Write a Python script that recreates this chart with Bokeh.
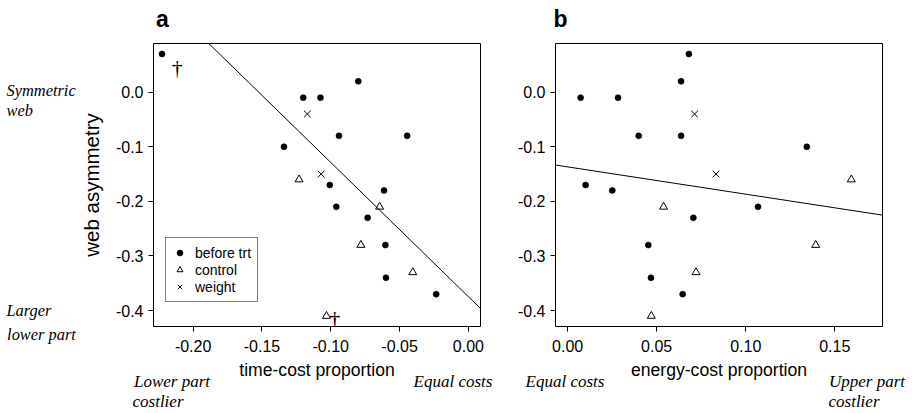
from bokeh.plotting import figure
from bokeh.models import Range1d, FixedTicker, Legend, LegendItem, Slope, LinearAxis
from bokeh.layouts import row
from bokeh.embed import file_html
from bokeh.resources import INLINE
from bokeh.core.properties import value

# ---------------- data ----------------
asym_before = [0.07, -0.01, -0.01, 0.02, -0.08, -0.08, -0.10, -0.17, -0.18, -0.21, -0.23, -0.28, -0.34, -0.37]
time_before = [-0.2226, -0.120, -0.1075, -0.080, -0.094, -0.0445, -0.134, -0.1007, -0.0613, -0.096, -0.0732, -0.0603, -0.0599, -0.0234]
energy_before = [0.0681, 0.0073, 0.0283, 0.0637, 0.0399, 0.0637, 0.1343, 0.0101, 0.0251, 0.1069, 0.0706, 0.0453, 0.0468, 0.0646]

asym_control = [-0.16, -0.21, -0.28, -0.33, -0.41]
time_control = [-0.123, -0.0645, -0.0781, -0.0404, -0.1031]
energy_control = [0.1593, 0.0539, 0.1393, 0.0721, 0.047]

asym_weight = [-0.04, -0.15]
time_weight = [-0.117, -0.107]
energy_weight = [0.0713, 0.0833]

# dead spiders (dagger marks) in panel a
dagger_time = [-0.2116, -0.0971]
dagger_asym = [0.0451, -0.4153]

# fitted lines
slope_time, intercept_time = -2.459, -0.3746
slope_energy, intercept_energy = -0.50, -0.1368

y_ticks = [0.0, -0.1, -0.2, -0.3, -0.4]
y_tick_labels = ["0.0", "-0.1", "-0.2", "-0.3", "-0.4"]
xa_ticks = [-0.20, -0.15, -0.10, -0.05, 0.0]
xa_tick_labels = ["-0.20", "-0.15", "-0.10", "-0.05", "0.00"]
xb_ticks = [0.0, 0.05, 0.10, 0.15]
xb_tick_labels = ["0.00", "0.05", "0.10", "0.15"]

legend_labels = ["before trt", "control", "weight"]
left_notes = ["Symmetric", "web", "Larger"]
left_note_below = "lower part"

# ---------------- layout geometry (page pixels) ----------------
Y_LO, Y_HI = -0.4292, 0.0892
XA_LO, XA_HI = -0.2288, 0.0088
XB_LO, XB_HI = -0.0068, 0.1768
FRAME_TOP, FRAME_BOTTOM = 43, 331
FA_LEFT, FA_RIGHT = 153, 480
FB_LEFT, FB_RIGHT = 555, 882
H = 413
WS = 76            # left strip holding the side notes
WA = 505 - WS
WB = 407

SANS = "Liberation Sans"
SERIF = "Liberation Serif"


def px_to_x(px, left, right, xlo, xhi):
    return round(xlo + (px - left) / (right - left) * (xhi - xlo), 5)


def text_axis(ticks, texts, standoff, font=SERIF, style="italic", size="17px"):
    """An extra axis without line or ticks: only its labels are shown."""
    return LinearAxis(ticker=FixedTicker(ticks=ticks),
                      major_label_overrides=dict(zip(ticks, texts)),
                      axis_line_color=None, major_tick_line_color=None, minor_tick_line_color=None,
                      major_tick_out=0, major_tick_in=0, minor_tick_out=0, minor_tick_in=0,
                      major_label_standoff=standoff,
                      major_label_text_font=font, major_label_text_font_style=style,
                      major_label_text_font_size=size, major_label_text_color="black")


def make_fig(width, left_px, right_px, page_x0, xlo, xhi, x_ticks, x_labels, x_title):
    p = figure(width=width, height=H,
               x_range=Range1d(xlo, xhi), y_range=Range1d(Y_LO, Y_HI),
               output_backend="svg", toolbar_location=None,
               min_border_left=left_px - page_x0,
               min_border_right=(page_x0 + width) - right_px,
               min_border_top=FRAME_TOP,
               min_border_bottom=H - FRAME_BOTTOM)
    p.xgrid.visible = False
    p.ygrid.visible = False
    p.outline_line_color = "black"
    p.outline_line_width = 1
    p.background_fill_color = "white"
    p.border_fill_color = "white"
    main_x = p.xaxis[0]
    main_y = p.yaxis[0]
    for ax in (main_x, main_y):
        ax.axis_line_color = None
        ax.major_tick_out = 5
        ax.major_tick_in = 0
        ax.minor_tick_out = 0
        ax.minor_tick_in = 0
        ax.major_tick_line_color = "black"
        ax.major_label_text_font = SANS
        ax.major_label_text_font_size = "16px"
        ax.major_label_text_color = "black"
        ax.axis_label_text_font = SANS
        ax.axis_label_text_font_style = "normal"
        ax.axis_label_text_color = "black"
    main_x.major_label_standoff = 8
    main_x.ticker = FixedTicker(ticks=x_ticks)
    main_x.major_label_overrides = dict(zip(x_ticks, x_labels))
    main_x.axis_label = x_title
    main_x.axis_label_text_font_size = "17.6px"
    main_x.axis_label_standoff = 5
    main_y.major_label_standoff = 5
    main_y.ticker = FixedTicker(ticks=y_ticks)
    main_y.major_label_overrides = dict(zip(y_ticks, y_tick_labels))
    return p, main_y


def add_letter(p, letter, center_px, geom):
    t = px_to_x(center_px, *geom)
    p.add_layout(text_axis([t], [letter], 12, font=SANS, style="bold", size="23px"), "above")


def add_note_axis(p, centers_px, texts, standoff, geom):
    ticks = [px_to_x(c, *geom) for c in centers_px]
    p.add_layout(text_axis(ticks, texts, standoff), "below")


# ---------------- left strip with the side notes ----------------
# its frame is aligned with the panels' frames (page y 43..331), so the y range is in page pixels
ps = figure(width=WS, height=H, x_range=Range1d(0, WS), y_range=Range1d(FRAME_BOTTOM, FRAME_TOP),
            output_backend="svg", toolbar_location=None,
            min_border_left=0, min_border_right=0, min_border_top=0, min_border_bottom=0)
ps.axis.visible = False
ps.xgrid.visible = False
ps.ygrid.visible = False
ps.outline_line_color = None
ps.background_fill_color = "white"
ps.border_fill_color = "white"
ps.text(x=[6, 6, 6], y=[91, 111, 315], text=left_notes,
        text_font=value(SERIF), text_font_style=value("italic"), text_font_size="16.4px",
        text_align="left", text_baseline="alphabetic", text_color="black")
ps.add_layout(text_axis([41.0], [left_note_below], -2, size="16.4px"), "below")

# ---------------- panel a ----------------
ga = (FA_LEFT, FA_RIGHT, XA_LO, XA_HI)
pa, pa_y = make_fig(WA, FA_LEFT, FA_RIGHT, WS, XA_LO, XA_HI, xa_ticks, xa_tick_labels, "time-cost proportion")
pa_y.axis_label = "web asymmetry"
pa_y.axis_label_text_font_size = "20.5px"
pa_y.axis_label_standoff = 10

pa.add_layout(Slope(gradient=slope_time, y_intercept=intercept_time, line_color="black", line_width=1))
ra1 = pa.scatter(time_before, asym_before, marker="circle", size=6, fill_color="black", line_color="black", line_width=0.6)
ra2 = pa.scatter(time_control, asym_control, marker="triangle", size=8, fill_color=None, line_color="black", line_width=1)
ra3 = pa.scatter(time_weight, asym_weight, marker="x", size=9.5, line_color="black", line_width=1)
pa.text(x=dagger_time, y=dagger_asym, text=["\u2020", "\u2020"], text_font=value(SERIF),
        text_font_size="22px", text_align="center", text_baseline="middle", text_color="black")

legend = Legend(items=[LegendItem(label=legend_labels[0], renderers=[ra1]),
                       LegendItem(label=legend_labels[1], renderers=[ra2]),
                       LegendItem(label=legend_labels[2], renderers=[ra3])],
                location=(12, 24), orientation="vertical", padding=6, spacing=0, margin=0,
                label_text_font=SANS, label_text_font_size="14px", label_text_color="black",
                label_standoff=8, glyph_width=15, glyph_height=17, label_height=17,
                border_line_color="black", border_line_width=1,
                background_fill_color="white", background_fill_alpha=1)
pa.add_layout(legend)

add_letter(pa, "a", 162, ga)
add_note_axis(pa, [171.5, 452.5], ["Lower part", "Equal costs"], -11, ga)
add_note_axis(pa, [157.5], ["costlier"], -2, ga)

# ---------------- panel b ----------------
gb = (FB_LEFT, FB_RIGHT, XB_LO, XB_HI)
pb, pb_y = make_fig(WB, FB_LEFT, FB_RIGHT, WS + WA, XB_LO, XB_HI, xb_ticks, xb_tick_labels, "energy-cost proportion")

pb.add_layout(Slope(gradient=slope_energy, y_intercept=intercept_energy, line_color="black", line_width=1))
pb.scatter(energy_before, asym_before, marker="circle", size=6, fill_color="black", line_color="black", line_width=0.6)
pb.scatter(energy_control, asym_control, marker="triangle", size=8, fill_color=None, line_color="black", line_width=1)
pb.scatter(energy_weight, asym_weight, marker="x", size=9.5, line_color="black", line_width=1)

add_letter(pb, "b", 560, gb)
add_note_axis(pb, [564.5, 866.5], ["Equal costs", "Upper part"], -11, gb)
add_note_axis(pb, [853.5], ["costlier"], -2, gb)

layout = row(ps, pa, pb)
open("out.html", "w").write(file_html(layout, INLINE, title="web asymmetry"))
